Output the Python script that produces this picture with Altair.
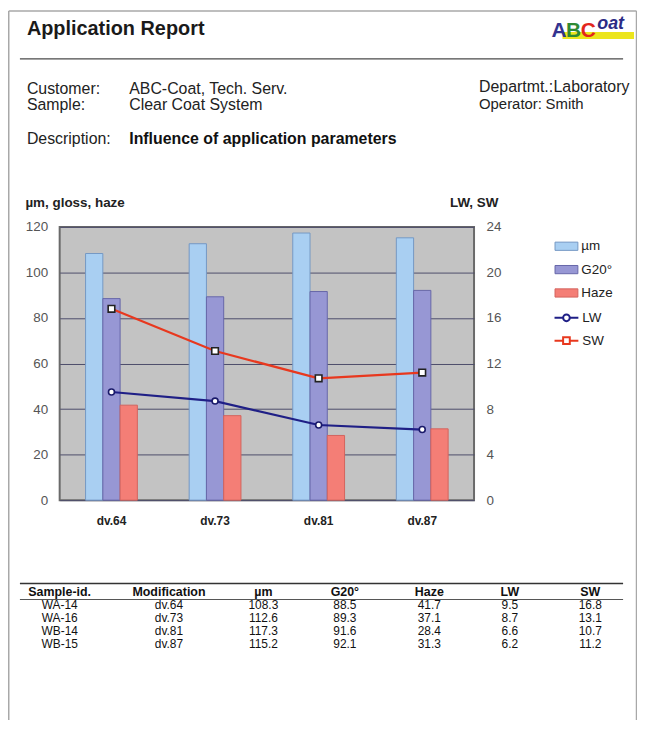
import altair as alt
import pandas as pd

# ---------------- data ----------------
samples = ["WA-14", "WA-16", "WB-14", "WB-15"]
modifications = ["dv.64", "dv.73", "dv.81", "dv.87"]
thickness_um = [108.3, 112.6, 117.3, 115.2]
gloss_g20 = [88.5, 89.3, 91.6, 92.1]
haze = [41.7, 37.1, 28.4, 31.3]
lw = [9.5, 8.7, 6.6, 6.2]
sw = [16.8, 13.1, 10.7, 11.2]

bar_series = ["µm", "G20°", "Haze"]
line_series = ["LW", "SW"]
left_ticks = [0, 20, 40, 60, 80, 100, 120]
right_ticks = [0, 4, 8, 12, 16, 20, 24]
table_headers = ["Sample-id.", "Modification", "µm", "G20°", "Haze", "LW", "SW"]

# ---------------- tables built from the arrays ----------------
bar_df = pd.DataFrame(
    [{"mod": m, "series": s, "value": vals[i]}
     for i, m in enumerate(modifications)
     for s, vals in zip(bar_series, [thickness_um, gloss_g20, haze])]
)
line_df = pd.DataFrame(
    [{"mod": m, "series": s, "value": vals[i]}
     for i, m in enumerate(modifications)
     for s, vals in zip(line_series, [lw, sw])]
)
table_cols = [
    samples,
    modifications,
    [f"{v:.1f}" for v in thickness_um],
    [f"{v:.1f}" for v in gloss_g20],
    [f"{v:.1f}" for v in haze],
    [f"{v:.1f}" for v in lw],
    [f"{v:.1f}" for v in sw],
]
table_df = pd.DataFrame({f"c{i}": col for i, col in enumerate(table_cols)})
table_df["sample"] = samples

# ---------------- styles ----------------
FONT = "Liberation Sans"
bar_fill = ["#a9cff2", "#9797d4", "#f47e76"]
bar_edge = ["#7598c4", "#6767a8", "#d4645e"]
line_colors = ["#1f1f86", "#e8381e"]
W, H = 417, 275


def label(txt, x, y, size=16, weight="normal", color="#222", align="left", style="normal"):
    return alt.Chart(pd.DataFrame({"t": [txt]})).mark_text(
        align=align, baseline="alphabetic", fontSize=size, fontWeight=weight,
        color=color, font=FONT, fontStyle=style
    ).encode(text="t:N", x=alt.value(x), y=alt.value(y))


def hrule(x1, x2, y, color="#444", w=1.0):
    return alt.Chart(pd.DataFrame({"a": [0]})).mark_rule(color=color, strokeWidth=w).encode(
        x=alt.value(x1), x2=alt.value(x2), y=alt.value(y))


def vrule(x, y1, y2, color="#444", w=1.0):
    return alt.Chart(pd.DataFrame({"a": [0]})).mark_rule(color=color, strokeWidth=w).encode(
        x=alt.value(x), y=alt.value(y1), y2=alt.value(y2))


# ---------------- main plot ----------------
x_enc = alt.X(
    "mod:N", sort=modifications, title=None,
    scale=alt.Scale(domain=modifications, paddingInner=0.5, paddingOuter=0.25),
    axis=alt.Axis(labelFontWeight="bold", labelFontSize=12, labelColor="#222",
                  labelPadding=16, labelAngle=0, domain=False, ticks=False,
                  grid=False, labelFont=FONT),
)

bars = alt.Chart(bar_df).mark_bar(strokeWidth=1).encode(
    x=x_enc,
    xOffset=alt.XOffset("series:N", sort=bar_series,
                        scale=alt.Scale(domain=bar_series, paddingInner=0, paddingOuter=0)),
    y=alt.Y("value:Q", scale=alt.Scale(domain=[0, 120], nice=False),
            axis=alt.Axis(values=left_ticks, domain=False, ticks=False, labelPadding=12,
                          labelFontSize=13.5, labelColor="#555", labelFont=FONT,
                          grid=True, gridColor="#4d4d6b", gridWidth=1,
                          title="µm, gloss, haze", titleAngle=0, titleAlign="left",
                          titleBaseline="alphabetic", titleX=-35, titleY=-20,
                          titleFontSize=13.5, titleFontWeight="bold", titleColor="#222",
                          titleFont=FONT)),
    color=alt.Color("series:N", sort=bar_series,
                    scale=alt.Scale(domain=bar_series, range=bar_fill),
                    legend=alt.Legend(title=None, orient="none", legendX=498, legendY=7.5,
                                      symbolType="M-1,-0.36H1V0.36H-1Z", symbolSize=529,
                                      symbolStrokeWidth=1, labelFontSize=13.5, labelColor="#222",
                                      labelFont=FONT, labelOffset=3, rowPadding=4.5, padding=0)),
    stroke=alt.Stroke("series:N", sort=bar_series,
                      scale=alt.Scale(domain=bar_series, range=bar_edge), legend=None),
)

y_right = alt.Y(
    "value:Q", scale=alt.Scale(domain=[0, 24], nice=False),
    axis=alt.Axis(orient="right", values=right_ticks, grid=False, domain=False, ticks=False,
                  labelPadding=12, labelFontSize=13.5, labelColor="#555", labelFont=FONT,
                  title="LW, SW", titleAngle=0, titleAlign="right", titleBaseline="alphabetic",
                  titleX=24, titleY=-20, titleFontSize=13.5, titleFontWeight="bold",
                  titleColor="#222", titleFont=FONT),
)

line_lw = alt.Chart(line_df).transform_filter(alt.datum.series == "LW").mark_line(
    strokeWidth=2.2, color=line_colors[0]).encode(x=x_enc, y=y_right)
line_sw = alt.Chart(line_df).transform_filter(alt.datum.series == "SW").mark_line(
    strokeWidth=2.2, color=line_colors[1]).encode(x=x_enc, y=y_right)
pts_lw = alt.Chart(line_df).transform_filter(alt.datum.series == "LW").mark_point(
    shape="circle", filled=True, fill="white", stroke="#1a1a6a", strokeWidth=1.6,
    size=36, opacity=1).encode(x=x_enc, y=y_right)
pts_sw = alt.Chart(line_df).transform_filter(alt.datum.series == "SW").mark_point(
    shape="square", filled=True, fill="white", stroke="#222222", strokeWidth=1.6,
    size=44, opacity=1).encode(x=x_enc, y=y_right)

# legend-only marks (hidden outside the view) for the two line series
lw_sym = "M-1,0H-0.28M0.28,0H1M-0.28,0A0.28,0.28,0,1,1,0.28,0A0.28,0.28,0,1,1,-0.28,0Z"
sw_sym = "M-1,0H-0.28M0.28,0H1M-0.28,-0.28H0.28V0.28H-0.28Z"


def line_legend(sym, y):
    return alt.Legend(title=None, orient="none", legendX=497, legendY=y,
                      symbolType=sym, symbolSize=576, symbolStrokeWidth=2,
                      labelFontSize=13.5, labelColor="#222", labelFont=FONT,
                      labelFontWeight="normal", labelOffset=3, padding=0)


legend_lw = alt.Chart(pd.DataFrame({"series": line_series[:1]})).mark_point(
    filled=False, strokeWidth=2, size=576, opacity=1, clip=True).encode(
    x=alt.value(-3000), y=alt.value(-3000),
    color=alt.Color("series:N", scale=alt.Scale(domain=line_series[:1], range=line_colors[:1]),
                    legend=line_legend(lw_sym, 78.5)),
)
legend_sw = alt.Chart(pd.DataFrame({"series": line_series[1:]})).mark_point(
    filled=False, strokeWidth=2, size=576, opacity=1, clip=True).encode(
    x=alt.value(-3000), y=alt.value(-3000),
    stroke=alt.Stroke("series:N", scale=alt.Scale(domain=line_series[1:], range=line_colors[1:]),
                      legend=line_legend(sw_sym, 101.5)),
)

line_part = alt.layer(line_lw, line_sw, pts_lw, pts_sw, legend_lw, legend_sw)

# ---------------- table ----------------
col_x = [0, 110, 205, 287, 372, 453, 534]
row_y = alt.Y("sample:N", sort=samples,
              scale=alt.Scale(type="point", domain=samples, range=[384.5, 423.5], padding=0),
              axis=None)
table_layers = []
for i, hdr in enumerate(table_headers):
    table_layers.append(label(hdr, col_x[i], 371, size=12.5, weight="bold", color="#111", align="center"))
    table_layers.append(
        alt.Chart(table_df).mark_text(align="center", baseline="alphabetic", fontSize=12,
                                      color="#111", font=FONT).encode(
            x=alt.value(col_x[i]), y=row_y, text=f"c{i}:N"))
table_part = alt.layer(*table_layers)

# ---------------- header / frame ----------------
deco = [
    vrule(-51.25, -217.25, 520, color="#a8a8a8", w=1.5),
    vrule(580.5, -217.25, 520, color="#a8a8a8", w=1.5),
    hrule(-51.25, 580.5, -217.25, color="#a8a8a8", w=1.5),
    label("Application Report", -33, -193, size=20, weight="bold", color="#1a1a1a"),
    alt.Chart(pd.DataFrame({"a": [0]})).mark_rect(color="#ece51c").encode(
        x=alt.value(506), x2=alt.value(578), y=alt.value(-196), y2=alt.value(-189)),
    label("A", 495, -191, size=21, weight="bold", color="#33338f"),
    label("B", 509.5, -191, size=21, weight="bold", color="#2f8a34"),
    label("C", 524.5, -191, size=21, weight="bold", color="#e3261c"),
    label("oat", 541, -199, size=18, weight="bold", color="#2b2b85", style="italic"),
    hrule(-40, 567, -169, color="#4a4a4a", w=1.3),
    label("Customer:", -33, -134),
    label("ABC-Coat, Tech. Serv.", 70, -134),
    label("Sample:", -33, -118),
    label("Clear Coat System", 70, -118),
    label("Departmt.:", 422, -136),
    label("Laboratory", 497, -136),
    label("Operator:", 422, -119, size=15),
    label("Smith", 489, -119, size=15),
    label("Description:", -33, -83),
    label("Influence of application parameters", 70, -83, weight="bold", color="#111"),
    hrule(-40, 567, 359, color="#333", w=1.5),
    hrule(-40, 567, 375, color="#555", w=1.0),
]

chart = alt.layer(bars, line_part, table_part, *deco).resolve_scale(
    y="independent", color="independent", stroke="independent"
).properties(
    width=W, height=H,
    padding={"left": 52, "top": 218, "right": 164, "bottom": 219},
    autosize=alt.AutoSizeParams(type="none"),
).configure(background="white", font=FONT).configure_view(
    fill="#c3c3c3", stroke="#6a6a6a", strokeWidth=2
)

chart.save("out.html", embed_options={"renderer": "svg", "actions": False})
